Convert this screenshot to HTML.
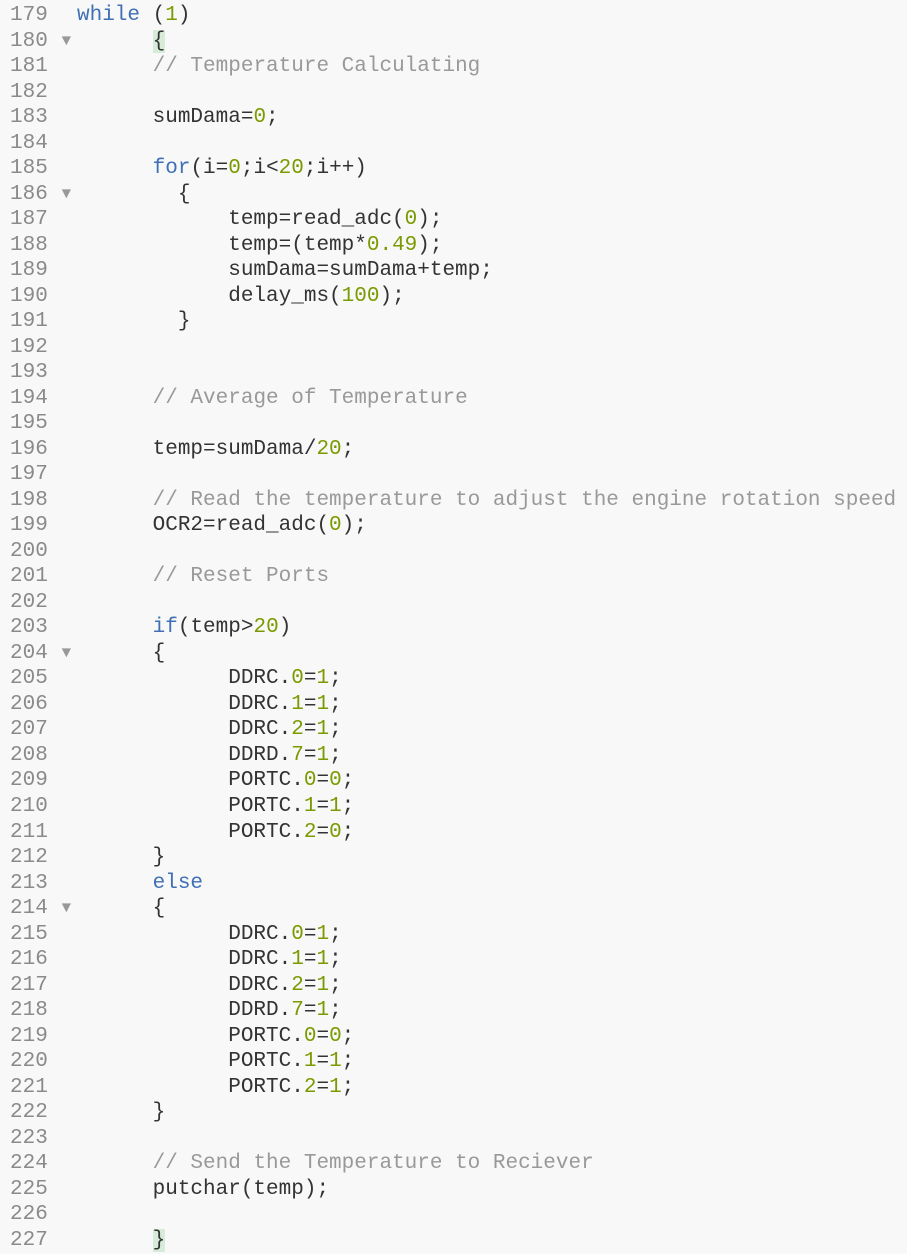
<!DOCTYPE html>
<html><head><meta charset="utf-8"><style>
html,body{margin:0;padding:0;background:#f8f8f8;width:907px;height:1254px;overflow:hidden}
.w{position:relative;top:3px;font-family:"Liberation Mono",monospace;font-size:21px;line-height:25.52px;white-space:pre;color:#333}
.n{position:absolute;left:10px;top:0;color:#8a8a8a}
.c{position:absolute;left:77px;top:0}
.k{color:#3f6fb5}.d{color:#7a9a00}.m{color:#999}
.h{background:#d6ecd9}
.a{color:#999;display:inline-block;transform:scale(0.75);line-height:0}
</style></head><body><div class="w"><div class="n">179
180 <span class="a">▼</span>
181
182
183
184
185
186 <span class="a">▼</span>
187
188
189
190
191
192
193
194
195
196
197
198
199
200
201
202
203
204 <span class="a">▼</span>
205
206
207
208
209
210
211
212
213
214 <span class="a">▼</span>
215
216
217
218
219
220
221
222
223
224
225
226
227</div><div class="c"><span class="k">while</span> (<span class="d">1</span>)
      <span class="h">{</span>
      <span class="m">// Temperature Calculating</span>

      sumDama=<span class="d">0</span>;

      <span class="k">for</span>(i=<span class="d">0</span>;i&lt;<span class="d">20</span>;i++)
        {
            temp=read_adc(<span class="d">0</span>);
            temp=(temp*<span class="d">0.49</span>);
            sumDama=sumDama+temp;
            delay_ms(<span class="d">100</span>);
        }


      <span class="m">// Average of Temperature</span>

      temp=sumDama/<span class="d">20</span>;

      <span class="m">// Read the temperature to adjust the engine rotation speed</span>
      OCR2=read_adc(<span class="d">0</span>);

      <span class="m">// Reset Ports</span>

      <span class="k">if</span>(temp&gt;<span class="d">20</span>)
      {
            DDRC.<span class="d">0</span>=<span class="d">1</span>;
            DDRC.<span class="d">1</span>=<span class="d">1</span>;
            DDRC.<span class="d">2</span>=<span class="d">1</span>;
            DDRD.<span class="d">7</span>=<span class="d">1</span>;
            PORTC.<span class="d">0</span>=<span class="d">0</span>;
            PORTC.<span class="d">1</span>=<span class="d">1</span>;
            PORTC.<span class="d">2</span>=<span class="d">0</span>;
      }
      <span class="k">else</span>
      {
            DDRC.<span class="d">0</span>=<span class="d">1</span>;
            DDRC.<span class="d">1</span>=<span class="d">1</span>;
            DDRC.<span class="d">2</span>=<span class="d">1</span>;
            DDRD.<span class="d">7</span>=<span class="d">1</span>;
            PORTC.<span class="d">0</span>=<span class="d">0</span>;
            PORTC.<span class="d">1</span>=<span class="d">1</span>;
            PORTC.<span class="d">2</span>=<span class="d">1</span>;
      }

      <span class="m">// Send the Temperature to Reciever</span>
      putchar(temp);

      <span class="h">}</span></div></div></body></html>
